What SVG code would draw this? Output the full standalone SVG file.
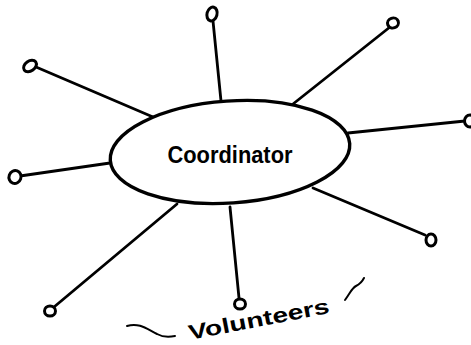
<svg xmlns="http://www.w3.org/2000/svg" width="471" height="345" viewBox="0 0 471 345">
  <style>
    .spoke { stroke: #000; stroke-width: 2.8; stroke-linecap: round; fill: none; }
    .end { stroke: #000; stroke-width: 3; fill: #fff; }
    .hub { stroke: #000; stroke-width: 3.4; fill: #fff; }
    .label { font-family: "Liberation Sans", "DejaVu Sans", sans-serif; font-weight: bold; fill: #000; }
    .wave { stroke: #000; stroke-width: 2; fill: none; stroke-linecap: round; }
  </style>
  <rect width="471" height="345" fill="#fff"/>

  <!-- spokes from the hub out to each volunteer -->
  <g id="connectors">
    <path class="spoke" d="M221 101 L213 21"/>
    <path class="spoke" d="M293 104 L390 27"/>
    <path class="spoke" d="M348 133 L465 121"/>
    <path class="spoke" d="M313 188 L425 235"/>
    <path class="spoke" d="M230 207 L239 298"/>
    <path class="spoke" d="M177 204 L54 307"/>
    <path class="spoke" d="M110 163 L20 176"/>
    <path class="spoke" d="M153 117 L36 67"/>
  </g>

  <!-- volunteer end points -->
  <g id="volunteer-top"><ellipse class="end" cx="212" cy="14" rx="5" ry="7" transform="rotate(15 212 14)"/></g>
  <g id="volunteer-top-right"><ellipse class="end" cx="393" cy="23" rx="5.5" ry="5" transform="rotate(-20 393 23)"/></g>
  <g id="volunteer-right"><ellipse class="end" cx="470" cy="121" rx="5.5" ry="6"/></g>
  <g id="volunteer-lower-right"><ellipse class="end" cx="431" cy="240" rx="5" ry="6"/></g>
  <g id="volunteer-bottom"><ellipse class="end" cx="240" cy="304" rx="5.5" ry="5"/></g>
  <g id="volunteer-bottom-left"><ellipse class="end" cx="50" cy="311" rx="5.5" ry="5"/></g>
  <g id="volunteer-left"><ellipse class="end" cx="15" cy="177" rx="6" ry="6.5" transform="rotate(20 15 177)"/></g>
  <g id="volunteer-top-left"><ellipse class="end" cx="30" cy="66" rx="7" ry="5" transform="rotate(-35 30 66)"/></g>

  <!-- central coordinator -->
  <g id="coordinator">
    <ellipse class="hub" cx="230" cy="152" rx="120" ry="51" transform="rotate(-4 230 152)"/>
    <text class="label" x="230" y="163" font-size="24" text-anchor="middle" textLength="125" lengthAdjust="spacingAndGlyphs">Coordinator</text>
  </g>

  <!-- group caption -->
  <g id="volunteers-caption">
    <path class="wave" d="M127 326 C140 322 148 330 157 334 C164 338 170 337 175 336"/>
    <text class="label" x="190" y="340" font-size="21" textLength="143" lengthAdjust="spacingAndGlyphs" transform="rotate(-11 190 340)">Volunteers</text>
    <path class="wave" d="M345 300 C350 293 352 288 356 286 C360 284 362 282 364 278"/>
  </g>
</svg>
